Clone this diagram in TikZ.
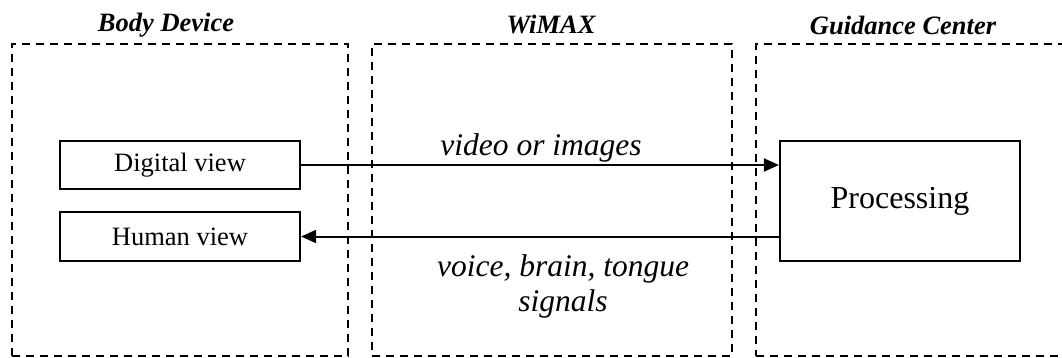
\documentclass[tikz,border=0pt]{standalone}
\usepackage{fontspec}
\setmainfont{Liberation Serif}
\usetikzlibrary{arrows.meta}
\begin{document}
\begin{tikzpicture}[x=1pt,y=-1pt,
  group/.style={draw, line width=1.8pt, dash pattern=on 8pt off 6pt, inner sep=0pt},
  blockbox/.style={draw, line width=2.2pt, inner sep=0pt, font=\fontsize{26.5}{30}\selectfont},
  title/.style={font=\fontsize{26.5}{30}\selectfont\bfseries\itshape, inner sep=0pt},
  flowlabel/.style={font=\fontsize{31.5}{35}\selectfont\itshape, inner sep=0pt, align=center},
  conn/.style={line width=2pt, -{Triangle[length=15pt,width=13pt]}}]
\clip (0,0) rectangle (1062,357);
% containers
\node[group, minimum width=336pt, minimum height=312pt] (body) at (180,200) {};
\node[group, minimum width=360pt, minimum height=312pt] (wimax) at (552,200) {};
\node[group, minimum width=314pt, minimum height=312pt] (guide) at (913,200) {};
% titles
\node[title] (tbody) at (166,25) {Body Device};
\node[title] (twimax) at (551,25) {WiMAX};
\node[title] (tguide) at (903,25) {Guidance Center};
% blocks
\node[blockbox, minimum width=240pt, minimum height=48pt] (digital) at (180,165) {Digital view};
\node[blockbox, minimum width=240pt, minimum height=49pt] (human) at (180,236.5) {Human view};
\node[blockbox, minimum width=240pt, minimum height=120pt, font=\fontsize{32}{36}\selectfont] (proc) at (900,201) {Processing};
% connectors
\draw[conn] (digital.east) -- (proc.west |- digital.east);
\draw[conn] (proc.west |- human.east) -- (human.east);
% labels
\node[flowlabel] (lvideo) at (541,148) {video or images};
\node[flowlabel] (lvoice) at (563,286) {voice, brain, tongue\\signals};
\end{tikzpicture}
\end{document}
